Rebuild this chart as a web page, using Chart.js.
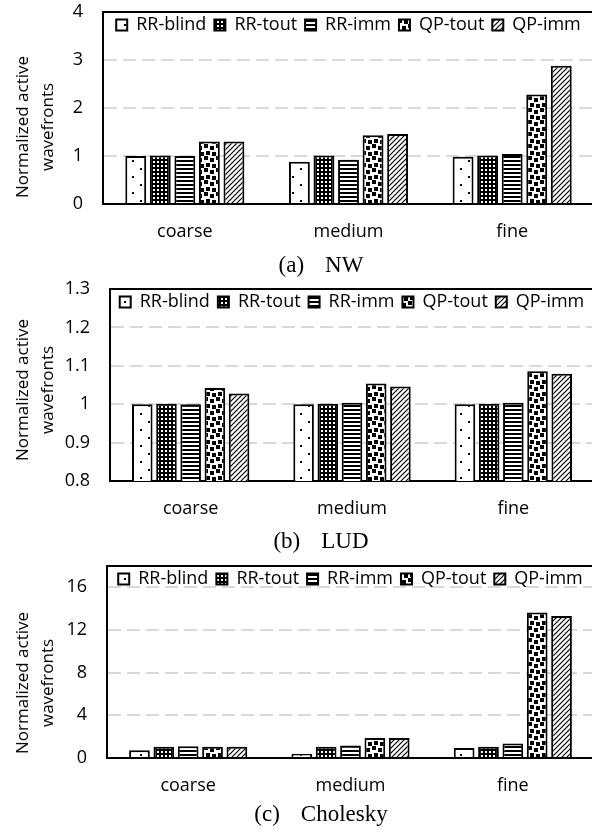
<!DOCTYPE html>
<html>
<head>
<meta charset="utf-8">
<script src="https://cdn.jsdelivr.net/npm/chart.js@4"></script>
<style>
  html, body { margin: 0; padding: 0; background: #fff; overflow: hidden; }
  .panel { position: relative; width: 596px; height: 277px; }
  .panel canvas { position: absolute; left: 0; top: 0; }
  .ytitle {
    position: absolute; left: 34px;
    transform: translate(-50%, -50%) rotate(-90deg);
    font: 17px "Open Sans"; line-height: 25px; color: #000;
    text-align: center; white-space: nowrap;
  }
  .caption {
    position: absolute; left: 321px;
    transform: translate(-50%, -50%);
    font: 23px "Liberation Serif"; color: #000; white-space: nowrap;
  }
  .caption span + span { margin-left: 21px; }
</style>
</head>
<body>
<div class="panel">
  <div style="position:absolute;width:596px;height:277px"><canvas id="nw"></canvas></div>
  <div class="ytitle" style="top:127px">Normalized active<br>wavefronts</div>
  <div class="caption" style="top:265px"><span>(a)</span><span>NW</span></div>
</div>
<div class="panel">
  <div style="position:absolute;width:596px;height:277px"><canvas id="lud"></canvas></div>
  <div class="ytitle" style="top:113px">Normalized active<br>wavefronts</div>
  <div class="caption" style="top:264px"><span>(b)</span><span>LUD</span></div>
</div>
<div class="panel">
  <div style="position:absolute;width:596px;height:277px"><canvas id="cholesky"></canvas></div>
  <div class="ytitle" style="top:129px">Normalized active<br>wavefronts</div>
  <div class="caption" style="top:260px"><span>(c)</span><span>Cholesky</span></div>
</div>
<script>
// Categories and series
const categories = ['coarse', 'medium', 'fine'];
const seriesNames = ['RR-blind', 'RR-tout', 'RR-imm', 'QP-tout', 'QP-imm'];

// NW
const nwBlind = [1.00, 0.88, 0.985];
const nwTout = [1.01, 1.01, 1.01];
const nwImm = [1.00, 0.92, 1.04];
const nwQpTout = [1.30, 1.43, 2.28];
const nwQpImm = [1.30, 1.46, 2.88];
const nwTicks = [0, 1, 2, 3, 4];

// LUD
const ludBlind = [1.000, 1.000, 1.000];
const ludTout = [1.001, 1.001, 1.001];
const ludImm = [1.000, 1.004, 1.004];
const ludQpTout = [1.042, 1.054, 1.086];
const ludQpImm = [1.028, 1.046, 1.079];
const ludTicks = [0.8, 0.9, 1, 1.1, 1.2, 1.3];

// Cholesky
const chBlind = [0.72, 0.37, 0.93];
const chTout = [1.05, 1.06, 1.06];
const chImm = [1.10, 1.18, 1.37];
const chQpTout = [1.05, 1.87, 13.63];
const chQpImm = [1.05, 1.87, 13.31];
const chTicks = [0, 4, 8, 12, 16];

Chart.defaults.font.family = 'Open Sans';
Chart.defaults.font.size = 18;
Chart.defaults.color = '#000';

// Black-and-white fill patterns, one per series
function makePattern(w, h, draw) {
    const c = document.createElement('canvas');
    c.width = w;
    c.height = h;
    const g = c.getContext('2d');
    g.fillStyle = '#fff';
    g.fillRect(0, 0, w, h);
    g.fillStyle = '#000';
    g.strokeStyle = '#000';
    draw(g);
    return g.createPattern(c, 'repeat');
}

const patterns = [
    // sparse dots
    makePattern(16, 16, g => {
        g.fillRect(4, 0, 2, 2);
        g.fillRect(12, 8, 2, 2);
    }),
    // small grid
    makePattern(4, 4, g => {
        g.fillRect(0, 0, 4, 4);
        g.fillStyle = '#fff';
        g.fillRect(1, 1, 2, 2);
    }),
    // horizontal lines
    makePattern(4, 4, g => {
        g.fillRect(0, 0, 4, 2);
    }),
    // large confetti
    makePattern(12, 12, g => {
        g.fillRect(0, 0, 4, 4);
        g.fillRect(6, 2, 4, 4);
        g.fillRect(2, 7, 4, 4);
        g.fillRect(8, 8, 4, 4);
    }),
    // wide upward diagonal
    makePattern(5, 5, g => {
        g.lineWidth = 1.2;
        g.beginPath();
        g.moveTo(-1, 6); g.lineTo(6, -1);
        g.moveTo(-1, 1); g.lineTo(1, -1);
        g.moveTo(4, 6); g.lineTo(6, 4);
        g.stroke();
    })
];

// Legend sits inside the plot frame: it takes no layout height
// and is centred over the plot area
const legendInside = {
    id: 'legendInside',
    beforeInit(chart) {
        const fit = chart.legend.fit;
        chart.legend.fit = function () {
            fit.call(this);
            this.height = 0;
        };
    },
    afterLayout(chart) {
        const legend = chart.legend;
        const area = chart.chartArea;
        legend.left = area.left;
        legend.right = area.right;
        legend.top = area.top + 4 - legend.options.labels.padding;
        legend.bottom = legend.top + 40;
    }
};

// Top edge of the plot frame
const frameTop = {
    id: 'frameTop',
    beforeDatasetsDraw(chart) {
        const { ctx, chartArea } = chart;
        ctx.save();
        ctx.strokeStyle = '#000';
        ctx.lineWidth = 2;
        ctx.beginPath();
        ctx.moveTo(chartArea.left - 1, chartArea.top);
        ctx.lineTo(chartArea.right, chartArea.top);
        ctx.stroke();
        ctx.restore();
    }
};

function makeChart(id, series, ticks, min, max, axisWidth) {
    const datasets = series.map((data, i) => ({
        label: seriesNames[i],
        data: data,
        backgroundColor: patterns[i],
        borderColor: '#000',
        borderWidth: 2,
        categoryPercentage: 0.75,
        barPercentage: 0.85
    }));

    return new Chart(document.getElementById(id), {
        type: 'bar',
        data: { labels: categories, datasets: datasets },
        options: {
            responsive: true,
            maintainAspectRatio: false,
            animation: false,
            layout: { padding: { top: 12, right: 2, left: 0, bottom: 0 } },
            plugins: {
                tooltip: { enabled: false },
                legend: {
                    position: 'top',
                    labels: {
                        boxWidth: 11,
                        boxHeight: 11,
                        padding: 8,
                        color: '#000',
                        font: { size: 18 }
                    }
                }
            },
            scales: {
                x: {
                    grid: { display: false, drawTicks: false },
                    border: { color: '#000', width: 2 },
                    ticks: { padding: 17, font: { size: 18 } },
                    afterFit: s => { s.height = 73; }
                },
                y: {
                    min: min,
                    max: max,
                    afterBuildTicks: s => { s.ticks = ticks.map(v => ({ value: v })); },
                    afterFit: s => {
                        s.width = axisWidth;
                        s.paddingTop = 0;
                        s.paddingBottom = 0;
                    },
                    grid: {
                        drawTicks: false,
                        lineWidth: 2,
                        color: c => (c.tick && (c.tick.value === min || c.tick.value === max)) ? 'rgba(0,0,0,0)' : '#d9d9d9'
                    },
                    border: { color: '#000', width: 2, dash: [13, 6] },
                    ticks: {
                        padding: 20,
                        font: { size: 18 },
                        callback: v => String(v)
                    }
                }
            }
        },
        plugins: [legendInside, frameTop]
    });
}

makeChart('nw', [nwBlind, nwTout, nwImm, nwQpTout, nwQpImm], nwTicks, 0, 4, 103);
makeChart('lud', [ludBlind, ludTout, ludImm, ludQpTout, ludQpImm], ludTicks, 0.8, 1.3, 110);
makeChart('cholesky', [chBlind, chTout, chImm, chQpTout, chQpImm], chTicks, 0, 18, 107);
</script>
</body>
</html>
